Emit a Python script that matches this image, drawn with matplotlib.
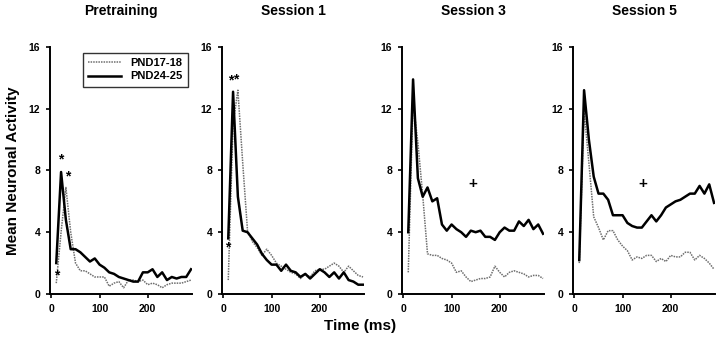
import matplotlib
matplotlib.use("Agg")
import matplotlib.pyplot as plt
import numpy as np

plt.rcParams["font.family"] = ["Liberation Sans", "DejaVu Sans"]
plt.rcParams["font.weight"] = "bold"

# time bins (ms)
time_ms = np.arange(10, 291, 10)

titles = ["Pretraining", "Session 1", "Session 3", "Session 5"]

# PND17-18 (dotted)
pnd17 = [
    [0.7, 4.0, 6.9, 4.0, 2.0, 1.5, 1.5, 1.3, 1.1, 1.1, 1.1, 0.5, 0.7, 0.8, 0.4,
     0.9, 0.9, 0.8, 0.9, 0.6, 0.7, 0.6, 0.4, 0.6, 0.7, 0.7, 0.7, 0.8, 0.9],
    [0.9, 11.0, 13.2, 8.5, 4.1, 3.4, 3.0, 2.5, 2.9, 2.5, 2.0, 1.8, 1.6, 1.4, 1.3,
     1.0, 1.3, 1.1, 1.5, 1.6, 1.6, 1.8, 2.0, 1.8, 1.4, 1.8, 1.5, 1.2, 1.1],
    [1.4, 12.5, 9.8, 6.4, 2.6, 2.5, 2.5, 2.3, 2.2, 2.0, 1.4, 1.5, 1.1, 0.8, 0.9,
     1.0, 1.0, 1.1, 1.8, 1.4, 1.1, 1.4, 1.5, 1.4, 1.3, 1.1, 1.2, 1.2, 1.0],
    [2.0, 11.9, 8.5, 5.0, 4.3, 3.5, 4.1, 4.1, 3.5, 3.1, 2.8, 2.2, 2.4, 2.3, 2.5,
     2.5, 2.1, 2.3, 2.1, 2.5, 2.4, 2.4, 2.7, 2.7, 2.2, 2.5, 2.3, 2.0, 1.6],
]

# PND24-25 (solid)
pnd24 = [
    [2.0, 7.9, 4.8, 2.9, 2.9, 2.7, 2.4, 2.1, 2.3, 1.9, 1.7, 1.4, 1.3, 1.1, 1.0,
     0.9, 0.8, 0.8, 1.4, 1.4, 1.6, 1.1, 1.4, 0.9, 1.1, 1.0, 1.1, 1.1, 1.6],
    [3.6, 13.1, 6.3, 4.1, 4.0, 3.6, 3.2, 2.6, 2.2, 1.9, 1.9, 1.5, 1.9, 1.5, 1.4,
     1.1, 1.3, 1.0, 1.3, 1.6, 1.4, 1.1, 1.4, 1.0, 1.4, 0.9, 0.8, 0.6, 0.6],
    [4.0, 13.9, 7.5, 6.3, 6.9, 6.0, 6.2, 4.5, 4.1, 4.5, 4.2, 4.0, 3.7, 4.1, 4.0,
     4.1, 3.7, 3.7, 3.5, 4.0, 4.3, 4.1, 4.1, 4.7, 4.4, 4.8, 4.2, 4.5, 3.9],
    [2.2, 13.2, 10.0, 7.6, 6.5, 6.5, 6.1, 5.1, 5.1, 5.1, 4.6, 4.4, 4.3, 4.3, 4.7,
     5.1, 4.7, 5.1, 5.6, 5.8, 6.0, 6.1, 6.3, 6.5, 6.5, 7.0, 6.5, 7.1, 5.9],
]

# significance marks: (panel, time, value, symbol)
marks = [
    (0, 10, 1.2, "*"), (0, 20, 8.7, "*"), (0, 34, 7.6, "*"),
    (1, 8, 3.0, "*"), (1, 15, 13.8, "*"), (1, 26, 13.9, "*"),
    (2, 145, 7.1, "+"), (3, 141, 7.1, "+"),
]

fig = plt.figure(figsize=(7.2, 3.43), dpi=100)
lefts = [50, 222, 402, 573]
axes = []
for i, left in enumerate(lefts):
    ax = fig.add_axes([left / 720, 0.143, 142 / 720, 0.72])
    ax.plot(time_ms, pnd17[i], color="#6e6e6e", lw=1.1, ls=(0, (1, 0.7)),
            label="PND17-18")
    ax.plot(time_ms, pnd24[i], color="black", lw=1.8, label="PND24-25")
    ax.set_xlim(-3, 292)
    ax.set_ylim(0, 16)
    ax.set_xticks([0, 100, 200])
    ax.set_yticks([0, 4, 8, 12, 16])
    ax.tick_params(labelsize=7.5, width=1.2, length=3, direction="out", pad=4)
    for lab in ax.get_xticklabels() + ax.get_yticklabels():
        lab.set_fontweight("bold")
    for side in ["top", "right"]:
        ax.spines[side].set_visible(False)
    for side in ["left", "bottom"]:
        ax.spines[side].set_linewidth(1.4)
    fig.text((left + 71) / 720, 1 - 11 / 343, titles[i], ha="center",
             va="center", fontsize=10, fontweight="bold")
    axes.append(ax)

for p, t, v, s in marks:
    axes[p].text(t, v, s, ha="center", va="center", fontsize=10 if s == "*" else 11,
                 fontweight="bold")

leg = axes[0].legend(loc="upper left", bbox_to_anchor=(0.19, 1.0), fontsize=8,
                     frameon=True, fancybox=False, edgecolor="black",
                     handlelength=3.0, borderpad=0.5, labelspacing=0.3)
leg.get_frame().set_linewidth(1.0)
for txt in leg.get_texts():
    txt.set_fontweight("bold")

fig.text(13 / 720, 1 - 171 / 343, "Mean Neuronal Activity", rotation=90,
         ha="center", va="center", fontsize=11, fontweight="bold")
fig.text(360 / 720, 1 - 326 / 343, "Time (ms)", ha="center", va="center",
         fontsize=11, fontweight="bold")

fig.savefig("out.png", dpi=100)
